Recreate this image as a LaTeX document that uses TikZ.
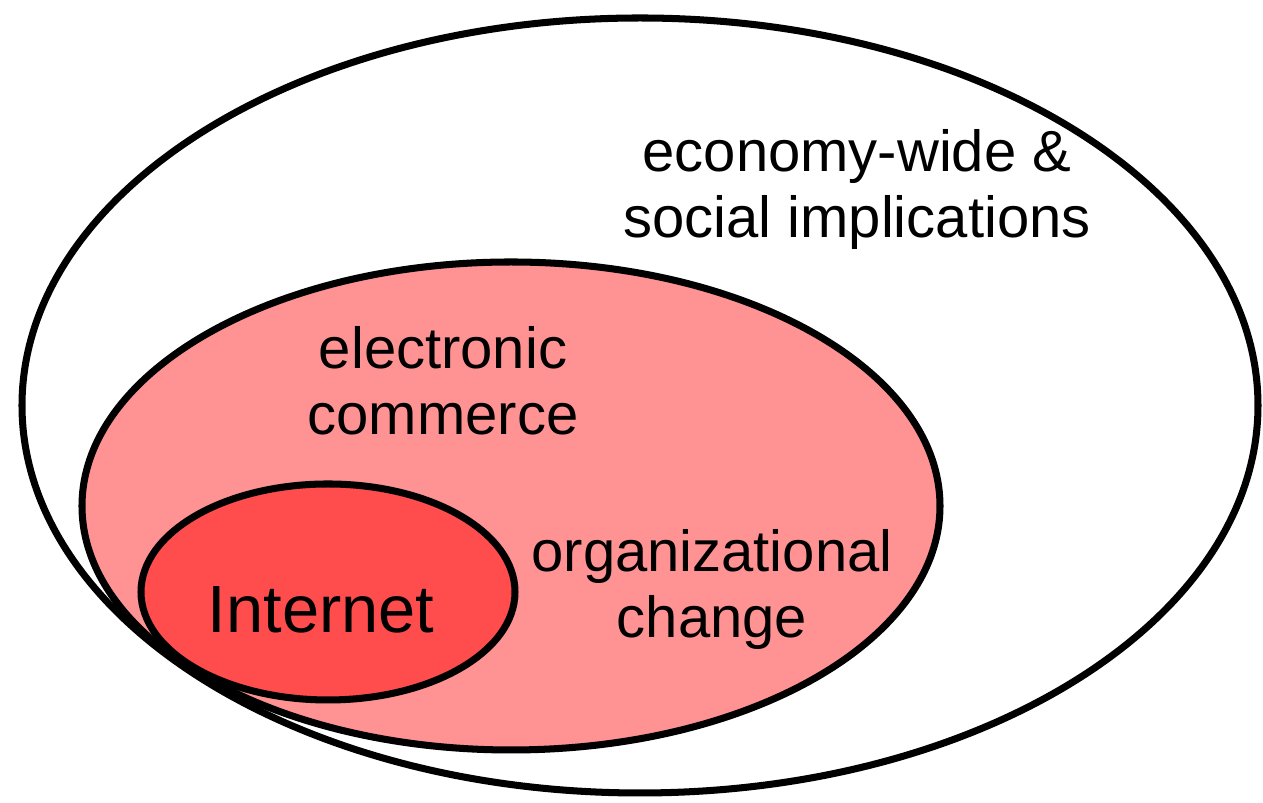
\documentclass[tikz,border=0pt]{standalone}
\usepackage{fontspec}
\setmainfont{Liberation Sans}
\definecolor{commercepink}{RGB}{255,146,146}
\definecolor{internetred}{RGB}{255,76,76}
\tikzset{
	ring/.style={line width=2pt, draw=black},
	label/.style={inner sep=0pt, anchor=base, align=center, font=\fontsize{16.5}{18.8}\selectfont}
}
\begin{document}
\begin{tikzpicture}
			\useasboundingbox (0,0) rectangle (12.63,8.03);
			\filldraw[ring, fill=white] (6.40,3.975) ellipse (6.18 and 3.875);
			\filldraw[ring, fill=commercepink] (5.11,2.97) ellipse (4.29 and 2.44);
			\filldraw[ring, fill=internetred] (3.28,2.11) ellipse (1.87 and 1.08);
			\node[label] (economy) at (8.57,5.65) {economy-wide \&\\social implications};
			\node[label] (ecommerce) at (4.43,3.68) {electronic\\commerce};
			\node[label] (orgchange) at (7.12,1.65) {organizational\\change};
			\node[label, font=\fontsize{19}{22}\selectfont] (internet) at (3.21,1.70) {Internet};
		\end{tikzpicture}
\end{document}
